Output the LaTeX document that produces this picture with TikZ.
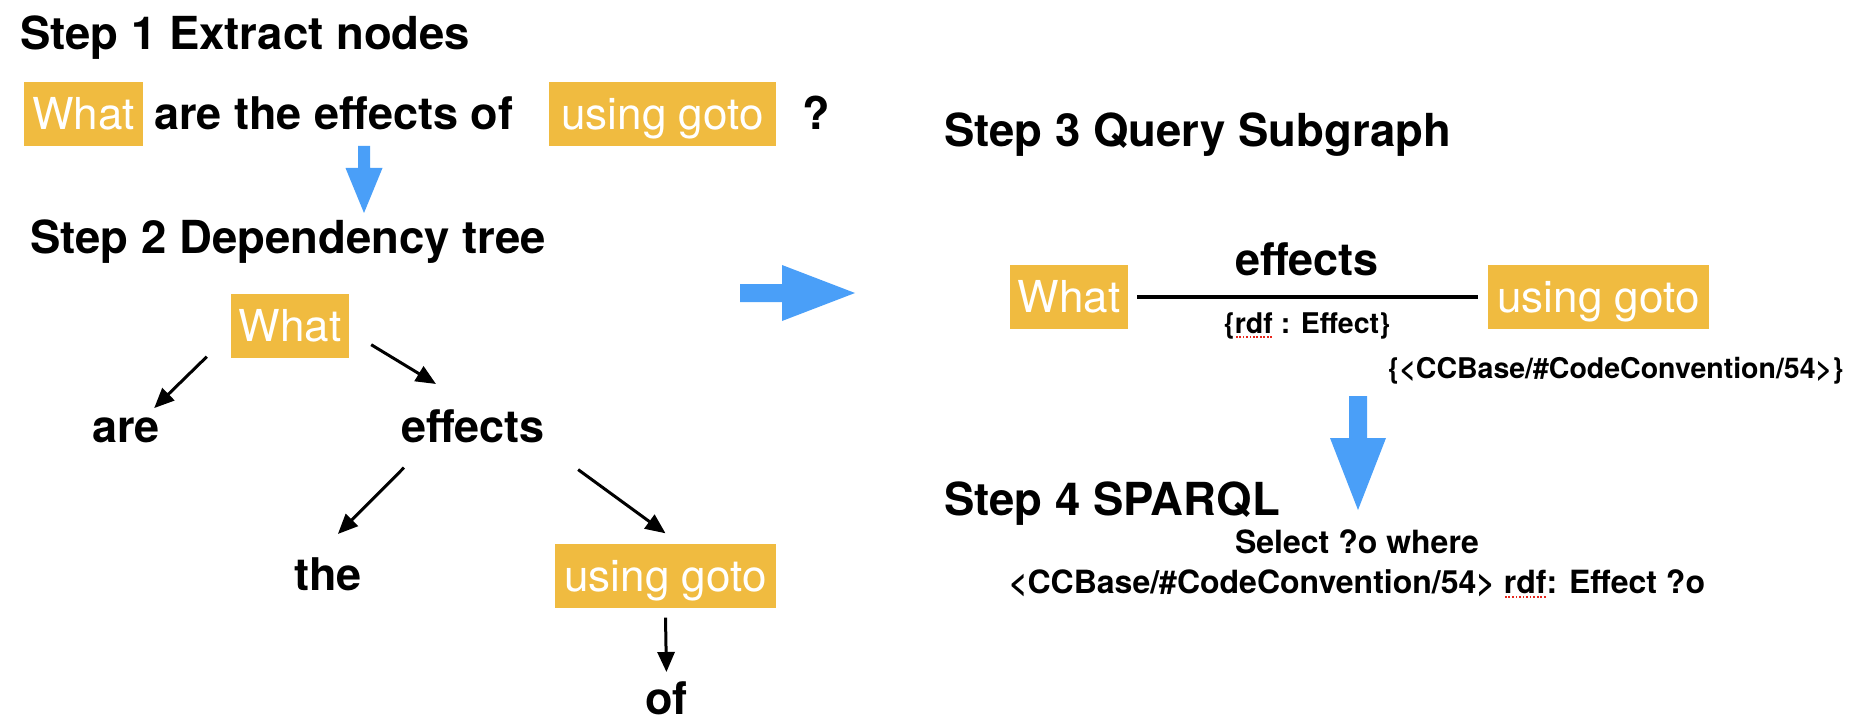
\documentclass[tikz,border=0pt]{standalone}
\usepackage{fontspec}
\setmainfont{TeX Gyre Heros}
\usetikzlibrary{arrows.meta,calc}
\definecolor{boxorange}{RGB}{240,187,64}
\definecolor{flowblue}{RGB}{74,159,248}
\definecolor{spellred}{RGB}{230,40,30}
\newcommand\spellmark[1]{\setbox0=\hbox{#1}\rlap{\color{spellred}\raisebox{-4.5pt}{\hbox to \wd0{\xleaders\hbox to 3.4pt{\hss\vrule width 1.8pt height 1.8pt depth 0pt\hss}\hfill}}}\box0\relax}
\begin{document}
\begin{tikzpicture}[x=1pt,y=-1pt,
  headtext/.style={font=\fontsize{45.5}{54}\selectfont\bfseries, inner sep=0pt, anchor=base west},
  word/.style={font=\fontsize{45}{54}\selectfont\bfseries, inner sep=0pt, anchor=base west},
  obox/.style={fill=boxorange, text=white, font=\fontsize{44}{52}\selectfont, inner sep=0pt,
    minimum height=64pt, text height=31.6pt, text depth=0pt},
  smalltext/.style={font=\fontsize{28.5}{34}\selectfont\bfseries, inner sep=0pt},
  sparql/.style={font=\fontsize{32}{38}\selectfont\bfseries, inner sep=0pt, anchor=base},
  treearrow/.style={line width=3pt, -{Triangle[length=20pt,width=17pt]}},
  blockarrow/.style={fill=flowblue}]
\useasboundingbox (0,0) rectangle (1866,722);

% Step 1
\node[headtext] (s1) at (20,50) {Step 1 Extract nodes};
\node[obox, minimum width=119pt] (q1) at (83.5,114) {What};
\node[word] (q2) at (154,130) {are the effects of};
\node[obox, minimum width=227pt] (q3) at (662.5,114) {using goto};
\node[word] (q4) at (802,130) {?};

% blue arrow 1 -> 2
\fill[blockarrow] (358,146) -- (370,146) -- (370,168) -- (382.5,168) -- (364,213)
  -- (345.5,168) -- (358,168) -- cycle;

% Step 2
\node[headtext] (s2) at (30,253) {Step 2 Dependency tree};
\node[obox, minimum width=118pt] (t1) at (290,325.5) {What};
\node[word] (t2) at (92,442) {are};
\node[word] (t3) at (401,442) {effects};
\node[word] (t4) at (294,590) {the};
\node[obox, minimum width=221pt] (t5) at (665.5,575.5) {using goto};
\node[word] (t6) at (645,714) {of};

\draw[treearrow] ($(t1.south west)+(-24,-1)$) -- ($(t2.north east)+(-6,-9)$);
\draw[treearrow] ($(t1.south east)+(22,-13)$) -- ($(t3.north west)+(35,-25)$);
\draw[treearrow] ($(t3.south west)+(3,25)$) -- ($(t4.north east)+(-24,-23)$);
\draw[treearrow] ($(t3.south east)+(33,27)$) -- ($(t5.north)+(0,-10)$);
\draw[treearrow] ($(t5.south)+(0,10)$) -- ($(t6.north)+(0,-9)$);

% blue arrow 2 -> 3
\fill[blockarrow] (740,284) -- (782,284) -- (782,265) -- (855,293) -- (782,321)
  -- (782,302) -- (740,302) -- cycle;

% Step 3
\node[headtext] (s3) at (944,147) {Step 3 Query Subgraph};
\node[obox, minimum width=118pt] (g1) at (1069,296.5) {What};
\node[obox, minimum width=221pt] (g2) at (1598.5,296.5) {using goto};
\draw[line width=4pt, shorten <=9pt, shorten >=10pt] (g1) -- (g2);
\node[word, anchor=base] (e1) at (1307,276) {effects};
\node[smalltext, anchor=base] (e2) at (1307,333) {\{\spellmark{rdf} : Effect\}};
\node[smalltext, anchor=base west] (e3) at (1388,378) {\{<CCBase/\#CodeConvention/54>\}};

% blue arrow 3 -> 4
\fill[blockarrow] (1349,396) -- (1367,396) -- (1367,438) -- (1386,438) -- (1358,510)
  -- (1330,438) -- (1349,438) -- cycle;

% Step 4
\node[headtext] (s4) at (944,515) {Step 4 SPARQL};
\node[sparql] (p1) at (1357,553) {Select ?o where};
\node[sparql] (p2) at (1357,593) {<CCBase/\#CodeConvention/54> \spellmark{rdf}: Effect ?o};
\end{tikzpicture}
\end{document}
